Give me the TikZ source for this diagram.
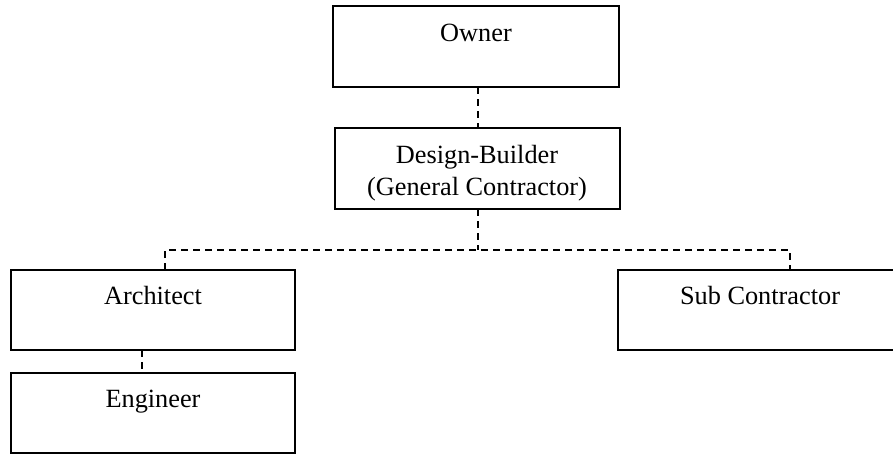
\documentclass[tikz,border=0pt]{standalone}
\usepackage{fontspec}
\setmainfont{Liberation Serif}
\begin{document}
\begin{tikzpicture}[x=1pt,y=-1pt,
  boxstyle/.style={draw, line width=1.3pt},
  lbl/.style={anchor=base, inner sep=0pt, font=\fontsize{26.3}{32}\selectfont},
  link/.style={line width=1.3pt, dash pattern=on 7pt off 5pt}]
\useasboundingbox (0,0) rectangle (893,455);
\draw[boxstyle] (333,6) rectangle (619,87);
\coordinate (ownerB) at (478,87);
\node[lbl] (ownerT) at (476,41) {Owner};
\draw[boxstyle] (335,128) rectangle (620,209);
\coordinate (dbT) at (478,128);
\coordinate (dbB) at (478,209);
\node[lbl] (db1) at (477,163) {Design-Builder};
\node[lbl] (db2) at (477,195) {(General Contractor)};
\draw[boxstyle] (11,270) rectangle (295,350);
\coordinate (archT) at (165,270);
\coordinate (archB) at (142,350);
\node[lbl] (archL) at (153,304) {Architect};
\draw[boxstyle] (11,373) rectangle (295,453);
\coordinate (engT) at (142,373);
\node[lbl] (engL) at (153,407) {Engineer};
\draw[boxstyle] (618,270) rectangle (903,350);
\coordinate (subT) at (790,270);
\node[lbl] (subL) at (760,304) {Sub Contractor};
\coordinate (bus) at (478,250);
\draw[link] (ownerB) -- (dbT);
\draw[link] (dbB) -- (bus);
\draw[link] (archT) |- (bus) -| (subT);
\draw[link] (archB) -- (engT);
\end{tikzpicture}
\end{document}
